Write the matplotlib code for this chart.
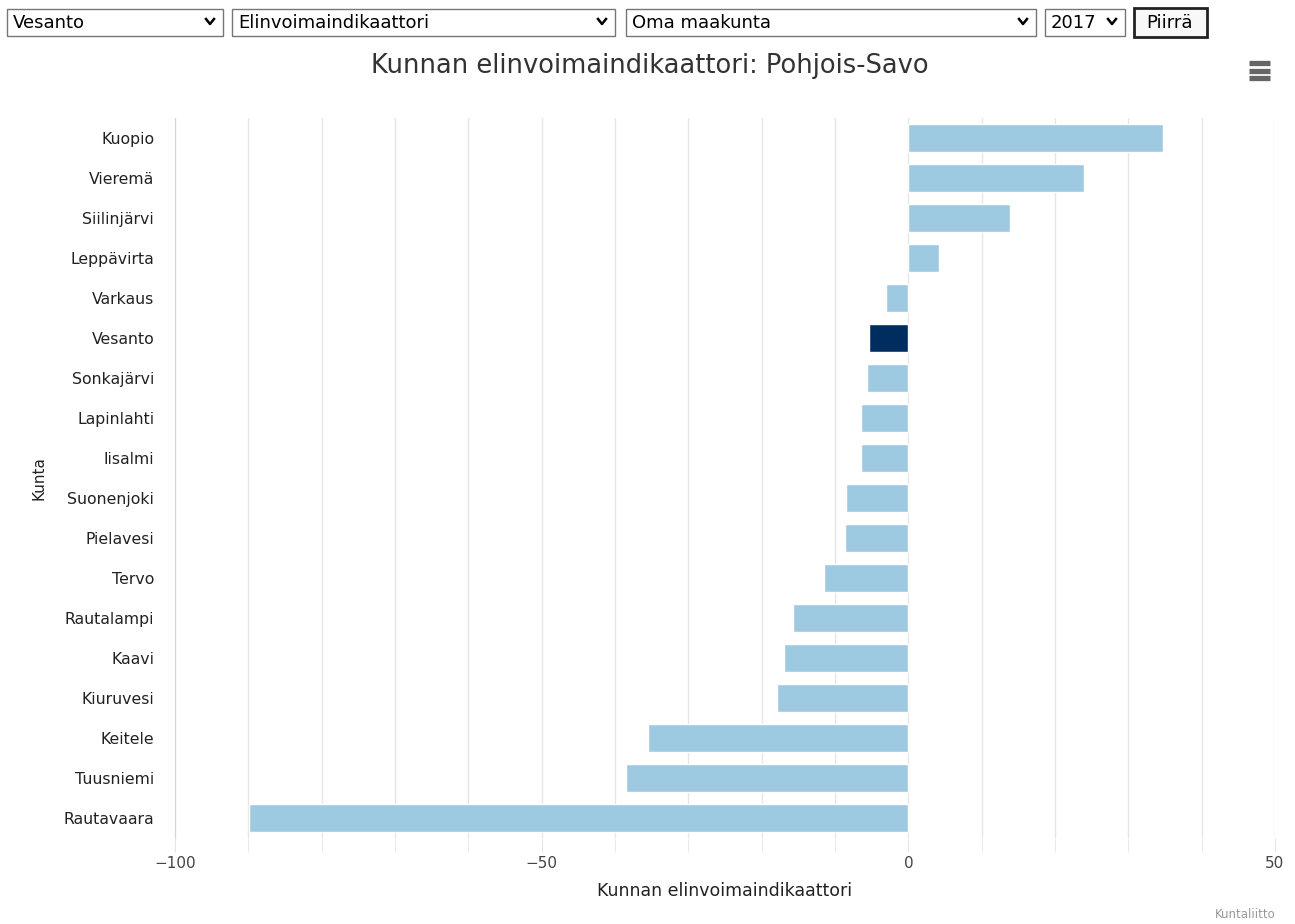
import matplotlib
matplotlib.use("Agg")
import matplotlib.pyplot as plt
from matplotlib.patches import Rectangle
from matplotlib.lines import Line2D

kunnat = ["Kuopio", "Vieremä", "Siilinjärvi", "Leppävirta", "Varkaus", "Vesanto",
          "Sonkajärvi", "Lapinlahti", "Iisalmi", "Suonenjoki", "Pielavesi", "Tervo",
          "Rautalampi", "Kaavi", "Kiuruvesi", "Keitele", "Tuusniemi", "Rautavaara"]
arvot = [34.7, 24.0, 13.8, 4.2, -3.1, -5.3,
         -5.7, -6.4, -6.4, -8.5, -8.7, -11.5,
         -15.7, -16.9, -17.9, -35.5, -38.5, -89.9]
valittu = "Vesanto"

valinnat = ["Vesanto", "Elinvoimaindikaattori", "Oma maakunta", "2017"]

fig = plt.figure(figsize=(12.95, 9.24), dpi=100)
W, H = 1295, 924
ax = fig.add_axes([175 / W, 1 - 838 / H, 1100 / W, 720 / H])

cols = ["#002d5f" if k == valittu else "#9ecae1" for k in kunnat]
ypos = list(range(len(kunnat)))
ax.barh(ypos, arvot, height=0.72, color=cols, edgecolor="white", linewidth=1, zorder=3)
ax.set_ylim(len(kunnat) - 0.5, -0.5)
ax.set_yticks(ypos)
ax.set_yticklabels(kunnat, fontsize=11.3, color="#222222")
ax.set_xlim(-100, 50)
ax.set_xticks([-100, -50, 0, 50])
ax.set_xticklabels(["−100", "−50", "0", "50"], fontsize=11, color="#444444")
ax.set_xticks(range(-90, 50, 10), minor=True)
ax.tick_params(axis="y", length=0, pad=15)
ax.tick_params(axis="x", which="both", length=10, color="#e6e6e6", pad=3)
ax.grid(axis="x", which="both", color="#e6e6e6", linewidth=1, zorder=0)
for s in ["top", "right", "bottom"]:
    ax.spines[s].set_visible(False)
ax.spines["left"].set_color("#ccd6eb")
ax.spines["left"].set_zorder(4)
ax.set_xlabel("Kunnan elinvoimaindikaattori", fontsize=12.5, color="#222222", labelpad=8)
ax.set_ylabel("Kunta", fontsize=11, color="#222222", labelpad=12)

fig.text(650 / W, 1 - 66 / H, "Kunnan elinvoimaindikaattori: Pohjois-Savo",
         ha="center", va="center", fontsize=18.5, color="#333333")
fig.text(1276 / W, 1 - 915 / H, "Kuntaliitto", ha="right", va="center",
         fontsize=8.5, color="#999999")

# hamburger menu
for yy in [63, 70.5, 78]:
    fig.add_artist(Line2D([1249 / W, 1270 / W], [1 - yy / H, 1 - yy / H],
                          color="#666666", linewidth=3.8, solid_capstyle="butt"))

# dropdowns at top
boxes = [(7, 223), (232, 615), (626, 1036), (1045, 1125)]
for (x0, x1), txt in zip(boxes, valinnat):
    fig.add_artist(Rectangle((x0 / W, 1 - 36 / H), (x1 - x0) / W, 27 / H,
                             transform=fig.transFigure, facecolor="white",
                             edgecolor="#767676", linewidth=1))
    fig.text((x0 + 6) / W, 1 - 22.5 / H, txt, ha="left", va="center",
             fontsize=13, color="#000000")
    cx = x1 - 13
    fig.add_artist(Line2D([(cx - 4) / W, cx / W, (cx + 4) / W],
                          [1 - 19 / H, 1 - 24 / H, 1 - 19 / H],
                          color="#000000", linewidth=1.8))
fig.add_artist(Rectangle((1134 / W, 1 - 37 / H), 73 / W, 29 / H,
                         transform=fig.transFigure, facecolor="#f8f8f8",
                         edgecolor="#222222", linewidth=2))
fig.text(1170 / W, 1 - 22.5 / H, "Piirrä", ha="center", va="center",
         fontsize=13, color="#000000")

fig.savefig("out.png", dpi=100)
